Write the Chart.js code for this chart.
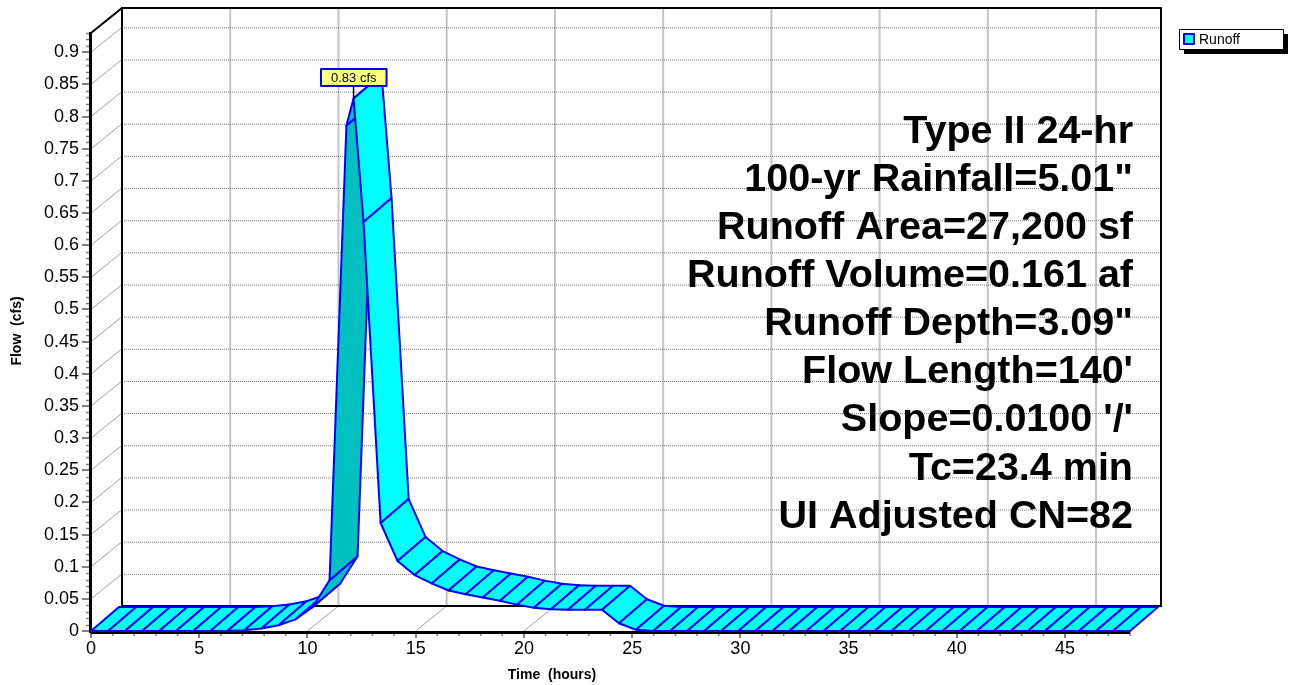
<!DOCTYPE html>
<html>
<head>
<meta charset="utf-8">
<script src="https://cdn.jsdelivr.net/npm/chart.js@4.4.0/dist/chart.umd.min.js"></script>
<style>
  body { margin: 0; background: #fff; }
  #wrap { width: 1294px; height: 685px; position: relative; }
</style>
</head>
<body>
<div id="wrap"><canvas id="runoffChart"></canvas></div>
<script>
// hydrograph points (hours, cfs)
var times = [0, 0.79, 1.57, 2.36, 3.15, 3.93, 4.72, 5.51, 6.30, 7.08,
  7.87, 8.66, 9.44, 10.23, 11.02, 11.80, 12.13, 12.59, 13.38, 14.16,
  14.95, 15.74, 16.52, 17.31, 18.10, 18.89, 19.67, 20.46, 21.25, 22.03,
  22.82, 23.61, 24.39, 25.18, 25.97, 26.75, 27.54, 28.33, 29.11, 29.90,
  30.69, 31.48, 32.26, 33.05, 33.84, 34.62, 35.41, 36.20, 36.98, 37.77,
  38.56, 39.34, 40.13, 40.92, 41.70, 42.49, 43.28, 44.07, 44.85, 45.64,
  46.43, 47.21, 48.00];
var flows = [0, 0, 0, 0, 0, 0, 0, 0, 0, 0.001,
  0.004, 0.009, 0.018, 0.037, 0.079, 0.786, 0.828, 0.636, 0.168, 0.109,
  0.087, 0.074, 0.063, 0.057, 0.052, 0.047, 0.041, 0.036, 0.034, 0.033,
  0.033, 0.033, 0.012, 0.002, 0, 0, 0, 0, 0, 0,
  0, 0, 0, 0, 0, 0, 0, 0, 0, 0,
  0, 0, 0, 0, 0, 0, 0, 0, 0, 0,
  0, 0, 0];

var seriesName = 'Runoff';
var xTitle = 'Time  (hours)';
var yTitle = 'Flow  (cfs)';
var xMax = 48, xStep = 5;
var yMax = 0.93, yStep = 0.05;
var infoLines = ['Type II 24-hr', '100-yr Rainfall=5.01"', 'Runoff Area=27,200 sf',
  'Runoff Volume=0.161 af', 'Runoff Depth=3.09"', "Flow Length=140'",
  "Slope=0.0100 '/'", 'Tc=23.4 min', 'UI Adjusted CN=82'];

var FONT = 'Arial, "Liberation Sans", sans-serif';
var WALL = { dx: 31, dy: -25 };
var RIB = { dx: 28, dy: -24 };

function seg(ctx, ax, ay, bx, by) {
  ctx.beginPath(); ctx.moveTo(ax, ay); ctx.lineTo(bx, by); ctx.stroke();
}

var hydroPlugin = {
  id: 'hydro3d',
  beforeDatasetsDraw: function(chart) {
    var ctx = chart.ctx, xs = chart.scales.x, ys = chart.scales.y;
    var x0 = xs.getPixelForValue(0), x1 = xs.getPixelForValue(xMax);
    var y0 = ys.getPixelForValue(0), y1 = ys.getPixelForValue(yMax);
    var dx = WALL.dx, dy = WALL.dy;
    ctx.save();

    // vertical lines on back wall + floor diagonals
    xs.ticks.forEach(function(t) {
      var px = xs.getPixelForValue(t.value);
      if (t.value > 0) {
        ctx.strokeStyle = '#c4c4c4'; ctx.lineWidth = 2;
        seg(ctx, px + dx, y1 + dy, px + dx, y0 + dy);
      }
      ctx.strokeStyle = '#a0a0a0'; ctx.lineWidth = 1;
      seg(ctx, px, y0, px + dx, y0 + dy);
    });

    // dotted horizontals on back wall + diagonals on side wall
    ys.ticks.forEach(function(t) {
      if (t.value === 0) return;
      var py = ys.getPixelForValue(t.value);
      ctx.strokeStyle = '#a0a0a0'; ctx.lineWidth = 1; ctx.setLineDash([]);
      seg(ctx, x0, py, x0 + dx, py + dy);
      ctx.strokeStyle = '#777'; ctx.setLineDash([1, 1]);
      seg(ctx, x0 + dx, py + dy + 0.5, x1 + dx, py + dy + 0.5);
    });
    ctx.setLineDash([]);

    // wall edges
    ctx.strokeStyle = '#000'; ctx.lineWidth = 2;
    ctx.strokeRect(x0 + dx, y1 + dy, x1 - x0, y0 - y1);
    seg(ctx, x0, y1, x0 + dx, y1 + dy);

    // minor ticks
    ctx.strokeStyle = '#808080'; ctx.lineWidth = 1.5;
    for (var i = 1; i <= xMax; i++) {
      if (i % xStep === 0) continue;
      var mx = xs.getPixelForValue(i);
      seg(ctx, mx, y0, mx, y0 + 5);
    }
    for (var j = 1; j <= Math.round(yMax * 100); j++) {
      if (j % 5 === 0) continue;
      var my = Math.round(ys.getPixelForValue(j / 100)) + 0.5;
      seg(ctx, x0 - 5, my, x0, my);
    }

    // front axes
    ctx.strokeStyle = '#000'; ctx.lineWidth = 3;
    seg(ctx, x0 - 0.5, y1 - 1, x0 - 0.5, y0 + 2);
    seg(ctx, x0, y0 + 1.5, x1, y0 + 1.5);
    ctx.restore();
  },
  afterDatasetsDraw: function(chart) {
    var ctx = chart.ctx;
    var pts = chart.getDatasetMeta(0).data;
    var dx = RIB.dx, dy = RIB.dy;
    ctx.save();
    ctx.lineJoin = 'round';
    ctx.lineWidth = 2;
    ctx.strokeStyle = '#0000ff';
    for (var i = 0; i < pts.length - 1; i++) {
      var a = pts[i], b = pts[i + 1];
      var ex = b.x - a.x, ey = b.y - a.y;
      var under = (ex * dy - ey * dx) > 0;
      ctx.beginPath();
      ctx.moveTo(a.x, a.y);
      ctx.lineTo(b.x, b.y);
      ctx.lineTo(b.x + dx, b.y + dy);
      ctx.lineTo(a.x + dx, a.y + dy);
      ctx.closePath();
      ctx.fillStyle = under ? '#00c0c0' : '#00ffff';
      ctx.fill();
      ctx.stroke();
    }

    // peak label
    var pk = 0;
    flows.forEach(function(v, k) { if (v > flows[pk]) pk = k; });
    var p = pts[pk];
    var txt = flows[pk].toFixed(2) + ' cfs';
    ctx.font = '13px ' + FONT;
    var tw = ctx.measureText(txt).width + 20, th = 17;
    var bx = Math.round(p.x - tw / 2), by = Math.round(p.y - 13 - th);
    ctx.strokeStyle = '#000'; ctx.lineWidth = 1.5;
    seg(ctx, p.x, p.y, p.x, by + th);
    ctx.fillStyle = '#ffff80';
    ctx.fillRect(bx, by, tw, th);
    ctx.strokeStyle = '#0000ff'; ctx.lineWidth = 2;
    ctx.strokeRect(bx, by, tw, th);
    ctx.fillStyle = '#000'; ctx.textAlign = 'center'; ctx.textBaseline = 'middle';
    ctx.fillText(txt, bx + tw / 2, by + th / 2 + 1);

    // info block
    ctx.font = 'bold 39.5px ' + FONT;
    ctx.textAlign = 'right';
    infoLines.forEach(function(s, k) {
      ctx.fillText(s, 1133, 132 + k * 48.1);
    });

    // axis titles
    ctx.font = 'bold 14px ' + FONT;
    ctx.textAlign = 'center';
    ctx.fillText(xTitle, 552, 675);
    ctx.save();
    ctx.translate(17, 331);
    ctx.rotate(-Math.PI / 2);
    ctx.fillText(yTitle, 0, 0);
    ctx.restore();

    // legend
    var lx = 1179, ly = 29, lw = 104, lh = 20;
    ctx.fillStyle = '#000';
    ctx.fillRect(lx + 5, ly + 5, lw, lh);
    ctx.fillStyle = '#fff';
    ctx.fillRect(lx, ly, lw, lh);
    ctx.strokeStyle = '#000'; ctx.lineWidth = 1;
    ctx.strokeRect(lx + 0.5, ly + 0.5, lw, lh);
    ctx.fillStyle = '#00ffff';
    ctx.fillRect(lx + 5, ly + 5, 10, 10);
    ctx.strokeStyle = '#0000ff'; ctx.lineWidth = 2;
    ctx.strokeRect(lx + 5, ly + 5, 10, 10);
    ctx.fillStyle = '#000';
    ctx.font = '14px ' + FONT;
    ctx.textAlign = 'left';
    ctx.fillText(seriesName, lx + 20, ly + lh / 2 + 1);
    ctx.restore();
  }
};

var chartData = {
  datasets: [{
    label: seriesName,
    data: times.map(function(t, i) { return { x: t, y: flows[i] }; }),
    showLine: false,
    pointRadius: 0,
    pointHoverRadius: 0
  }]
};

var runoffChart = new Chart(document.getElementById('runoffChart'), {
  type: 'scatter',
  data: chartData,
  plugins: [hydroPlugin],
  options: {
    responsive: true,
    maintainAspectRatio: false,
    animation: false,
    events: [],
    layout: { padding: { top: 33, right: 164, bottom: 0, left: 0 } },
    plugins: { legend: { display: false }, tooltip: { enabled: false } },
    scales: {
      x: {
        type: 'linear', min: 0, max: xMax, position: 'bottom',
        ticks: { stepSize: xStep, includeBounds: false, color: '#000', padding: 0,
          maxRotation: 0, autoSkip: false, font: { family: FONT, size: 18 },
          callback: function(v) { return String(v); } },
        grid: { drawOnChartArea: false, drawTicks: true, tickLength: 7, color: '#808080', lineWidth: 2 },
        border: { display: false },
        afterFit: function(s) { s.height = 54; }
      },
      y: {
        type: 'linear', min: 0, max: yMax,
        ticks: { stepSize: yStep, includeBounds: false, color: '#000', padding: 3,
          autoSkip: false, font: { family: FONT, size: 18 },
          callback: function(v) { return String(Math.round(v * 100) / 100); } },
        grid: { drawOnChartArea: false, drawTicks: true, tickLength: 9, color: '#808080', lineWidth: 2 },
        border: { display: false },
        afterFit: function(s) { s.width = 91; }
      }
    }
  }
});
</script>
</body>
</html>
